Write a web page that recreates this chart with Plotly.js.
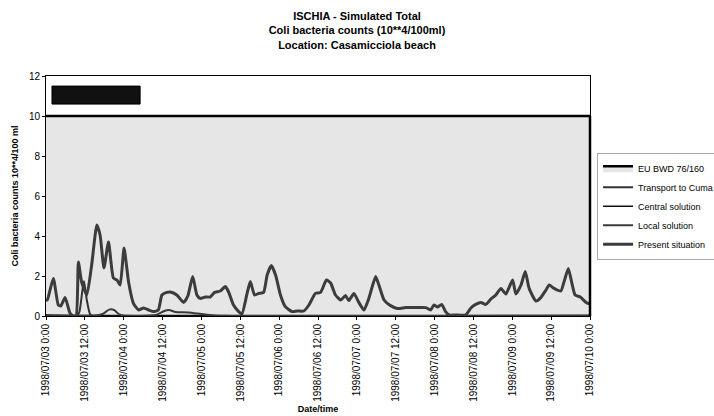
<!DOCTYPE html>
<html>
<head>
<meta charset="utf-8">
<script src="https://cdn.plot.ly/plotly-3.0.1.min.js"></script>
<style>html,body{margin:0;padding:0;background:#fff;}#chart{width:714px;height:416px;}</style>
</head>
<body>
<div id="chart"></div>
<script>
// Hours since 1998-07-03 00:00 and values (10**4/100 ml)
const presentHours = [0,0.4,2.26,3.8,4.55,5.9,7.4,8.45,9.3,10.0,11.0,12.6,14.1,15.7,16.7,17.9,19.3,20.8,21.9,22.9,24.1,25.5,27.0,28.6,30.1,31.7,33.2,34.7,35.8,37.3,38.4,40.4,42.5,43.8,45.3,46.6,47.6,49.2,50.7,52.1,53.8,55.4,56.4,57.9,59.5,60.5,62.1,63.1,64.4,65.7,67.2,68.3,69.6,70.9,72.4,73.9,76.0,77.6,79.6,81.2,83.2,84.8,86.6,87.9,89.4,91.0,92.5,93.5,95.1,96.6,98.2,99.7,101.8,102.8,104.4,106.4,108.5,111.1,113.6,117.3,118.8,119.8,120.9,122.2,123.4,124.5,126.5,129.6,131.2,132.7,134.3,135.8,137.4,138.9,140.5,142.0,144.1,145.1,146.7,148.0,149.2,151.3,152.8,154.4,155.4,156.9,159.0,160.0,161.3,162.3,163.4,165.0,166.8,168];
const presentVals  = [0.8,0.8,1.88,0.55,0.5,0.92,0.15,0,0,2.7,1.7,1.05,2.55,4.55,4.05,2.4,3.7,1.9,1.8,1.55,3.4,1.7,0.63,0.3,0.4,0.3,0.22,0.3,1.05,1.18,1.2,1.05,0.68,1.0,1.97,1.05,0.88,0.95,0.95,1.18,1.25,1.47,1.2,0.55,0.22,0.1,1.13,1.72,1.05,1.13,1.18,2.05,2.52,2.05,1.05,0.47,0.22,0.25,0.25,0.55,1.13,1.18,1.8,1.65,1.05,0.8,1.02,0.77,1.13,0.68,0.3,0.88,1.97,1.55,0.8,0.52,0.38,0.42,0.42,0.42,0.3,0.55,0.45,0.58,0.22,0.05,0.05,0.05,0.4,0.58,0.68,0.58,0.85,1.05,1.38,1.1,1.8,1.1,1.55,2.22,1.38,0.75,0.92,1.3,1.55,1.38,1.25,1.72,2.38,1.72,1.05,0.95,0.68,0.6];

const transportHours = [0,9.5,10.3,11.7,12.6,13.6,14.5,168];
const transportVals  = [0,0,0.2,1.75,0.8,0.1,0,0];

const centralHours = [0,168];
const centralVals  = [0.02,0.02];

const localHours = [0,15,17.5,19.5,21,22.5,24,34,36.5,38,40,44,48,52,168];
const localVals  = [0.05,0.02,0.1,0.32,0.3,0.1,0.02,0.05,0.25,0.3,0.2,0.18,0.1,0.03,0.03];

const euHours = [0,168];
const euVals  = [10,10];

const tickHours = [0,12,24,36,48,60,72,84,96,108,120,132,144,156,168];
const tickLabels = ["1998/07/03 0:00","1998/07/03 12:00","1998/07/04 0:00","1998/07/04 12:00","1998/07/05 0:00","1998/07/05 12:00","1998/07/06 0:00","1998/07/06 12:00","1998/07/07 0:00","1998/07/07 12:00","1998/07/08 0:00","1998/07/08 12:00","1998/07/09 0:00","1998/07/09 12:00","1998/07/10 0:00"];

const base = Date.UTC(1998,6,3,0,0,0);
const toDate = h => new Date(base + h*3600000).toISOString().replace('T',' ').slice(0,19);
const dates = arr => arr.map(toDate);

const FONT = "Liberation Sans, Arial, sans-serif";

const traces = [
  {name:"EU BWD 76/160", x:dates(euHours), y:euVals, mode:"lines", fill:"tozeroy",
   fillcolor:"#e6e6e6", line:{color:"#000", width:2.5}},
  {name:"Transport to Cuma", x:dates(transportHours), y:transportVals, mode:"lines",
   line:{color:"#333", width:2, shape:"spline", smoothing:0.6}},
  {name:"Central solution", x:dates(centralHours), y:centralVals, mode:"lines",
   line:{color:"#111", width:1.5}},
  {name:"Local solution", x:dates(localHours), y:localVals, mode:"lines",
   line:{color:"#3a3a3a", width:2, shape:"spline", smoothing:0.6}},
  {name:"Present situation", x:dates(presentHours), y:presentVals, mode:"lines",
   line:{color:"#3c3c3c", width:3, shape:"spline", smoothing:0.5}}
];

const layout = {
  width:714, height:416,
  margin:{l:46, r:124, t:76, b:100, autoexpand:false},
  paper_bgcolor:"#fff", plot_bgcolor:"#fff",
  font:{family:FONT, size:9, color:"#000"},
  title:{text:"<b>ISCHIA - Simulated Total<br>Coli bacteria counts (10**4/100ml)<br>Location: Casamicciola beach</b>",
    font:{family:FONT, size:11, color:"#000"}, x:0.5, xref:"container", xanchor:"center",
    y:0.952, yref:"container", yanchor:"middle"},
  xaxis:{type:"date", range:[toDate(0), toDate(168)], tickmode:"array",
    tickvals:dates(tickHours), ticktext:tickLabels, tickangle:-90,
    showgrid:false, zeroline:false, showline:true, linecolor:"#000", linewidth:1, mirror:true,
    ticks:"outside", ticklen:3, tickcolor:"#000", tickfont:{size:10},
    title:{text:"<b>Date/time</b>", font:{size:9}, standoff:4}},
  yaxis:{range:[0,12], dtick:2, showgrid:false, zeroline:false, showline:true,
    linecolor:"#000", linewidth:1, mirror:true, ticks:"outside", ticklen:3, tickcolor:"#000",
    tickfont:{size:10},
    title:{text:"<b>Coli bacteria counts 10**4/100 ml</b>", font:{size:9}, standoff:8}},
  showlegend:true,
  legend:{x:1.013, xanchor:"left", y:0.68, yanchor:"top", bgcolor:"#fff",
    bordercolor:"#aaa", borderwidth:1, font:{size:9}, itemwidth:30, tracegroupgap:0},
  shapes:[
    {type:"rect", xref:"paper", yref:"paper", x0:0.011, x1:0.173, y0:0.883, y1:0.958,
     fillcolor:"#111", line:{color:"#000", width:1}},
    {type:"line", xref:"paper", yref:"paper", x0:1, x1:1, y0:0, y1:0.833,
     line:{color:"#000", width:2.5}}
  ]
};

Plotly.newPlot("chart", traces, layout, {displayModeBar:false, staticPlot:true});
</script>
</body>
</html>
